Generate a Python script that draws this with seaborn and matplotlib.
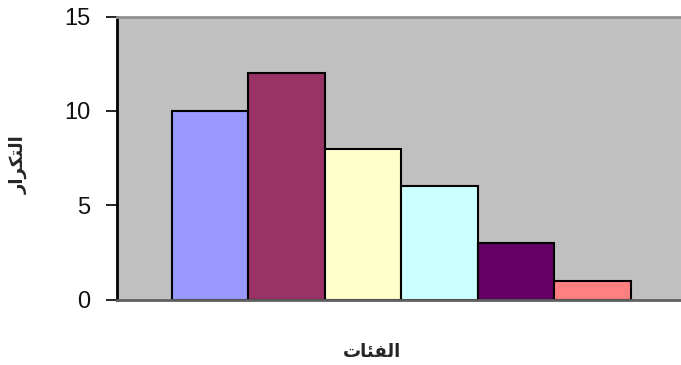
import pandas as pd
import matplotlib
matplotlib.use("Agg")
import matplotlib.pyplot as plt
import seaborn as sns

# data
categories = ["1", "2", "3", "4", "5", "6"]
frequencies = [10, 12, 8, 6, 3, 1]
bar_colors = ["#9999FF", "#993366", "#FFFFCC", "#CCFFFF", "#660066", "#FF8080"]
y_ticks = [0, 5, 10, 15]

# Arabic labels in presentation forms, visual (left-to-right) order,
# since matplotlib does no shaping or bidi reordering
x_label = "\uFE95\uFE8E\uFE8C\uFED4\uFEDF\uFE8D"          # الفئات
y_label = "\uFEAD\uFE8D\uFEAE\uFEDC\uFE98\uFEDF\uFE8D"    # التكرار

df = pd.DataFrame({"category": categories, "frequency": frequencies})

sns.set_theme(style="white")
plt.rcParams["font.family"] = ["Liberation Sans", "DejaVu Sans"]

fig = plt.figure(figsize=(6.81, 3.65), dpi=100)
ax = fig.add_axes([117 / 681, 1 - 299.5 / 365, 1 - 117 / 681, (299.5 - 16.5) / 365])
ax.set_facecolor("#C0C0C0")

sns.barplot(
    data=df, x="category", y="frequency", hue="category",
    palette=bar_colors, width=1.0, dodge=False, legend=False,
    edgecolor="black", linewidth=1.5, saturation=1, ax=ax,
)

ax.set_xlim(-1.215, 6.154)
ax.set_ylim(0, 15)
ax.set_yticks(y_ticks)
ax.set_yticklabels([str(t) for t in y_ticks], fontsize=17, color="#111111")
ax.set_xticks([])
ax.tick_params(axis="y", direction="out", length=8, width=1.2, pad=11,
               color="black", left=True)

ax.spines["left"].set_color("black")
ax.spines["left"].set_linewidth(2)
ax.spines["bottom"].set_color("#606060")
ax.spines["bottom"].set_linewidth(2)
ax.spines["top"].set_color("#909090")
ax.spines["top"].set_linewidth(2)
ax.spines["right"].set_visible(False)

ax.set_xlabel(x_label, fontsize=13, fontweight="bold",
              family=["DejaVu Sans"], va="center")
ax.xaxis.set_label_coords((372 - 117) / 564, -0.185)
ax.set_ylabel(y_label, fontsize=13, fontweight="bold",
              family=["DejaVu Sans"], va="center")
ax.yaxis.set_label_coords((19 - 117) / 564, 0.475)

fig.savefig("out.png", dpi=100)
